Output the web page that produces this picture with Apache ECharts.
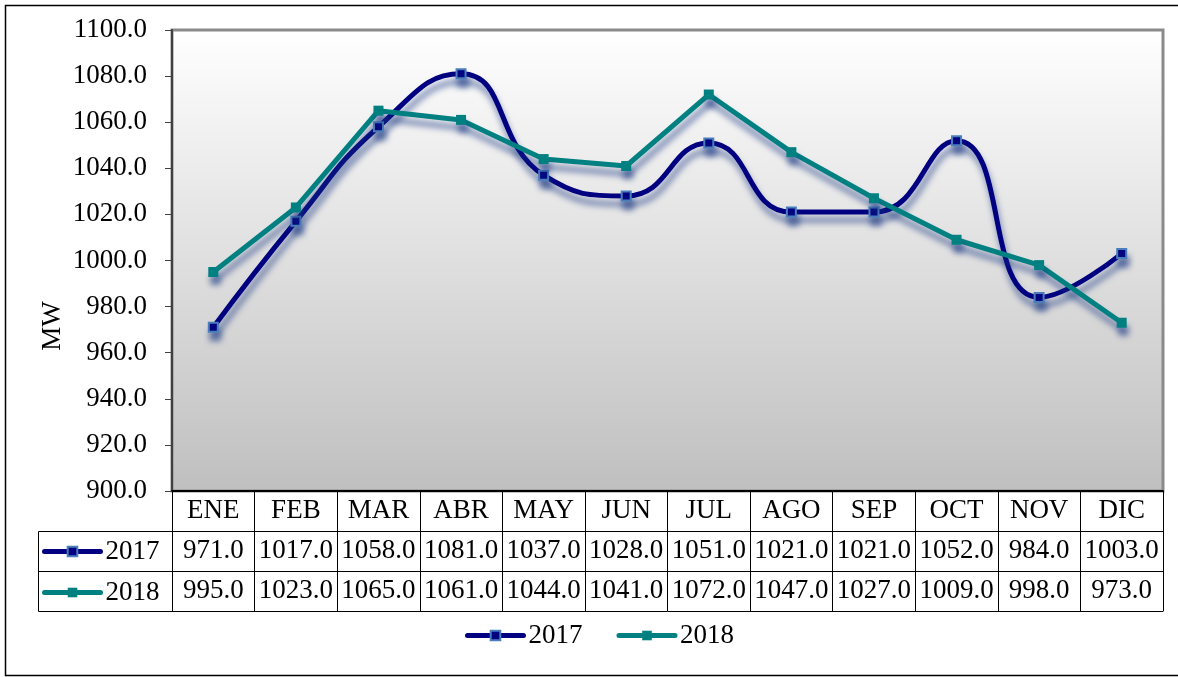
<!DOCTYPE html>
<html>
<head>
	<meta charset="utf-8">
	<title>MW 2017 - 2018</title>
	<style>
		* { margin: 0; padding: 0; }
		body { background: #fff; }
		#chart { width: 1178px; height: 677px; }
	</style>
</head>
<body>
	<div id="chart"></div>
	<script src="https://cdn.jsdelivr.net/npm/echarts@6/dist/echarts.min.js"></script>
	<script type="text/javascript">
		// datos
		var months = ['ENE', 'FEB', 'MAR', 'ABR', 'MAY', 'JUN', 'JUL', 'AGO', 'SEP', 'OCT', 'NOV', 'DIC'];
		var data2017 = [971, 1017, 1058, 1081, 1037, 1028, 1051, 1021, 1021, 1052, 984, 1003];
		var data2018 = [995, 1023, 1065, 1061, 1044, 1041, 1072, 1047, 1027, 1009, 998, 973];
		var yTicks = { min: 900, max: 1100, step: 20 };

		var FONT = 'Liberation Serif';
		var FS = 27;

		var myChart = echarts.init(document.getElementById('chart'));

		// fila de la tabla de datos debajo del eje
		function tableRow(offset, values, showLabel) {
			return {
				type: 'category',
				position: 'bottom',
				offset: offset,
				data: months,
				axisLine: { show: true, lineStyle: { color: '#000', width: 1 } },
				axisTick: { show: showLabel, length: 40, lineStyle: { color: '#000', width: 1 } },
				axisLabel: {
					show: showLabel,
					interval: 0,
					margin: 20,
					verticalAlign: 'middle',
					fontFamily: FONT,
					fontSize: FS,
					color: '#000',
					formatter: function (v, i) { return values ? values[i].toFixed(1) : v; }
				},
				splitLine: { show: false }
			};
		}

		var shadow = {
			shadowColor: 'rgba(25, 55, 130, 0.6)',
			shadowBlur: 6,
			shadowOffsetX: 2,
			shadowOffsetY: 8
		};

		var legendText = { fontFamily: FONT, fontSize: FS, color: '#000', lineHeight: 26 };
		var legendLine = { width: 5, cap: 'round', shadowBlur: 0, shadowOffsetX: 0, shadowOffsetY: 0 };
		var legendItem = { shadowBlur: 0, shadowOffsetX: 0, shadowOffsetY: 0 };

		var option = {
			animation: false,
			textStyle: { fontFamily: FONT },
			grid: {
				left: 172,
				right: 15,
				top: 30,
				bottom: 186,
				show: true,
				backgroundColor: new echarts.graphic.LinearGradient(0, 0, 0, 1, [
					{ offset: 0, color: '#ffffff' },
					{ offset: 1, color: '#bfbfbf' }
				]),
				borderColor: '#8a8a8a',
				borderWidth: 3
			},
			legend: [{
				data: ['2017', '2018'],
				left: 465,
				top: 622,
				padding: 0,
				itemWidth: 56,
				itemHeight: 12,
				itemGap: 34,
				lineStyle: legendLine,
				itemStyle: legendItem,
				textStyle: legendText
			}, {
				data: ['2017', '2018'],
				orient: 'vertical',
				left: 42,
				top: 538,
				padding: 0,
				itemWidth: 56,
				itemHeight: 12,
				itemGap: 14,
				lineStyle: legendLine,
				itemStyle: legendItem,
				textStyle: legendText
			}],
			xAxis: [
				{
					type: 'category',
					position: 'bottom',
					data: months,
					axisLine: { show: true, lineStyle: { color: '#000', width: 2 } },
					axisTick: { show: true, length: 40, lineStyle: { color: '#000', width: 1 } },
					axisLabel: {
						interval: 0,
						margin: 20,
						verticalAlign: 'middle',
						fontFamily: FONT,
						fontSize: FS,
						color: '#000'
					}
				},
				tableRow(40, data2017, true),
				tableRow(80, data2018, true),
				tableRow(120, null, false)
			],
			yAxis: {
				type: 'value',
				min: yTicks.min,
				max: yTicks.max,
				interval: yTicks.step,
				axisLine: { show: true, lineStyle: { color: '#404040', width: 2 } },
				axisTick: { show: true, length: 7, lineStyle: { color: '#404040', width: 1 } },
				axisLabel: {
					margin: 25,
					fontFamily: FONT,
					fontSize: FS,
					color: '#000',
					formatter: function (v) { return v.toFixed(1); }
				},
				splitLine: { show: false }
			},
			series: [{
				name: '2017',
				type: 'line',
				data: data2017,
				smooth: 0.5,
				symbol: 'rect',
				symbolSize: 9,
				lineStyle: Object.assign({ color: '#000080', width: 5 }, shadow),
				itemStyle: Object.assign({ color: '#000080', borderColor: '#4a7ebb', borderWidth: 2 }, shadow)
			}, {
				name: '2018',
				type: 'line',
				data: data2018,
				symbol: 'rect',
				symbolSize: 10,
				lineStyle: Object.assign({ color: '#008080', width: 5 }, shadow),
				itemStyle: Object.assign({ color: '#008080' }, shadow)
			}],
			graphic: [
				// borde exterior
				{
					type: 'rect',
					shape: { x: 5.5, y: 5.5, width: 1180, height: 670 },
					style: { fill: 'none', stroke: '#000', lineWidth: 1.5 },
					silent: true
				},
				// celdas de la columna de leyenda
				{
					type: 'polyline',
					shape: { points: [[172, 531.5], [38.5, 531.5], [38.5, 611.5], [172, 611.5]] },
					style: { fill: 'none', stroke: '#000', lineWidth: 1 },
					silent: true
				},
				{
					type: 'line',
					shape: { x1: 38.5, y1: 571.5, x2: 172, y2: 571.5 },
					style: { stroke: '#000', lineWidth: 1 },
					silent: true
				},
				{
					type: 'text',
					x: 53,
					y: 326,
					rotation: Math.PI / 2,
					style: {
						text: 'MW',
						fontFamily: FONT,
						fontSize: FS,
						fill: '#000',
						align: 'center',
						verticalAlign: 'middle'
					}
				}
			]
		};

		myChart.setOption(option);
	</script>
</body>
</html>
